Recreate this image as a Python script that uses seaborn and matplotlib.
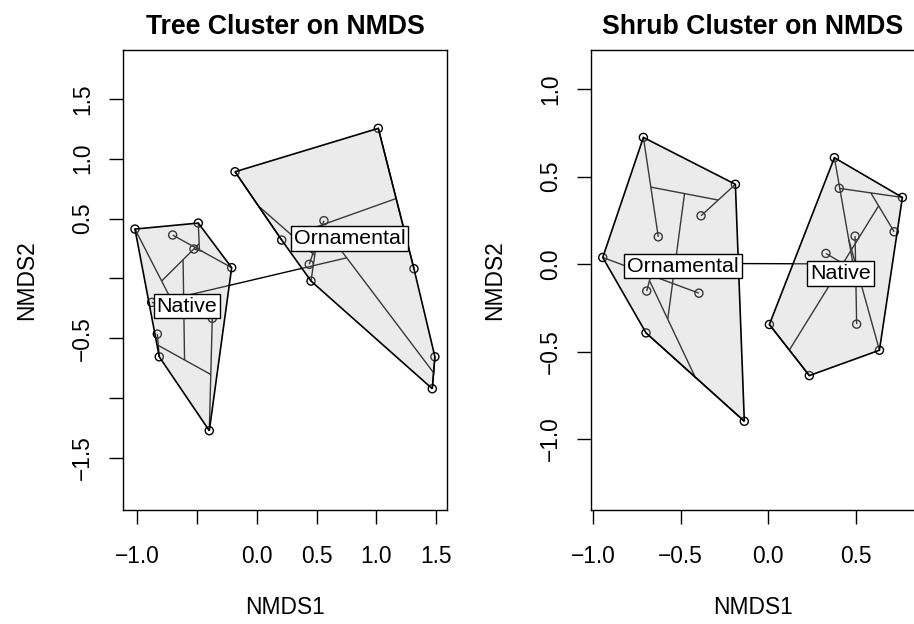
import numpy as np
import pandas as pd
import matplotlib
matplotlib.use("Agg")
import matplotlib.pyplot as plt
from matplotlib.collections import LineCollection
import seaborn as sns

# ---- NMDS site scores -------------------------------------------------------
# Trees
tree_native_x = [-1.017, -0.488, -0.702, -0.524, -0.209, -0.877, -0.488, -0.371, -0.830, -0.814, -0.396]
tree_native_y = [0.412, 0.462, 0.362, 0.245, 0.089, -0.201, -0.279, -0.334, -0.466, -0.656, -1.274]
tree_orn_x = [-0.181, 1.016, 0.562, 0.209, 0.439, 0.454, 1.314, 1.489, 1.467]
tree_orn_y = [0.891, 1.254, 0.482, 0.320, 0.117, -0.023, 0.080, -0.656, -0.923]

# Shrubs
shrub_orn_x = [-0.713, -0.188, -0.384, -0.628, -0.945, -0.694, -0.396, -0.698, -0.137]
shrub_orn_y = [0.724, 0.456, 0.276, 0.156, 0.038, -0.154, -0.166, -0.393, -0.898]
shrub_native_x = [0.377, 0.405, 0.765, 0.718, 0.495, 0.329, 0.006, 0.504, 0.634, 0.234]
shrub_native_y = [0.608, 0.433, 0.381, 0.185, 0.160, 0.061, -0.345, -0.343, -0.492, -0.637]

# ---- hierarchical clustering merge tables (hclust-style) ---------------------
# negative entry = site number, positive entry = earlier merge step
tree_native_merge = [(-3, -5), (-4, 1), (-2, 2), (-6, -7), (-1, 4), (3, 5),
                     (-9, -10), (-8, -11), (7, 8), (6, 9)]
tree_orn_merge = [(-1, -4), (-3, -5), (-6, 2), (1, 3), (-2, -7), (5, 4),
                  (-8, -9), (6, 7)]
shrub_orn_merge = [(-1, -4), (-2, -3), (1, 2), (-5, -7), (-6, 4), (-8, -9),
                   (5, 6), (3, 7)]
shrub_native_merge = [(-2, -3), (-4, 1), (-7, -10), (2, 3), (-6, 4), (-5, -8),
                      (-1, 6), (-9, 7), (5, 8)]


def convex_hull(pts):
    pts = sorted(map(tuple, pts))

    def cross(o, a, b):
        return (a[0] - o[0]) * (b[1] - o[1]) - (a[1] - o[1]) * (b[0] - o[0])

    lower, upper = [], []
    for p in pts:
        while len(lower) >= 2 and cross(lower[-2], lower[-1], p) <= 0:
            lower.pop()
        lower.append(p)
    for p in reversed(pts):
        while len(upper) >= 2 and cross(upper[-2], upper[-1], p) <= 0:
            upper.pop()
        upper.append(p)
    return np.array(lower[:-1] + upper[:-1])


def polygon_centre(poly):
    x, y = poly[:, 0], poly[:, 1]
    xn, yn = np.roll(x, -1), np.roll(y, -1)
    c = x * yn - xn * y
    area = c.sum() / 2
    return np.array([((x + xn) * c).sum() / (6 * area),
                     ((y + yn) * c).sum() / (6 * area)])


def cluster_segments(xy, merge):
    pos, size, segs = {}, {}, []
    for i, (a, b) in enumerate(merge, start=1):
        pa, na = (xy[-a - 1], 1) if a < 0 else (pos[a], size[a])
        pb, nb = (xy[-b - 1], 1) if b < 0 else (pos[b], size[b])
        segs.append([pa, pb])
        pos[i] = (na * pa + nb * pb) / (na + nb)
        size[i] = na + nb
    return segs, pos[len(merge)]


sns.set_theme(style="white")
plt.rcParams["font.family"] = ["Liberation Sans", "DejaVu Sans"]
plt.rcParams.update({
    "axes.edgecolor": "black", "axes.linewidth": 1.0,
    "xtick.color": "black", "ytick.color": "black",
    "text.color": "black", "axes.labelcolor": "black",
})

fig = plt.figure(figsize=(9.14, 6.24), dpi=100)
ax_l = fig.add_axes([123 / 914, 114 / 624, 324 / 914, 460 / 624])
ax_r = fig.add_axes([591 / 914, 114 / 624, 324 / 914, 460 / 624])

BASE = 16.4
fill_col = (0.745, 0.745, 0.745, 0.3)


def draw_panel(ax, groups, title, xlim, ylim, xticks, xlabels, yticks, ylabels):
    frames = []
    for name, x, y, _ in groups:
        frames.append(pd.DataFrame({"NMDS1": x, "NMDS2": y, "group": name}))
    df = pd.concat(frames, ignore_index=True)

    sns.scatterplot(data=df, x="NMDS1", y="NMDS2", ax=ax, marker="o", s=34,
                    facecolor="none", edgecolor="black", linewidth=1.0,
                    legend=False, zorder=2)

    roots = []
    for name, x, y, merge in groups:
        xy = np.column_stack([x, y])
        segs, root = cluster_segments(xy, merge)
        ax.add_collection(LineCollection(segs, colors="black", linewidths=1.0, zorder=2))
        roots.append(root)
    ax.add_collection(LineCollection([[roots[0], roots[1]]], colors="black",
                                     linewidths=1.0, zorder=2))

    for name, x, y, _ in groups:
        hull = convex_hull(np.column_stack([x, y]))
        ax.fill(hull[:, 0], hull[:, 1], facecolor=fill_col, edgecolor="black",
                linewidth=1.2, zorder=3)
        cx, cy = polygon_centre(hull)
        ax.text(cx, cy, name, ha="center", va="center", fontsize=15.4, zorder=5,
                bbox=dict(boxstyle="square,pad=0.13", fc="white", ec="black", lw=1.0))

    ax.set_xlim(*xlim)
    ax.set_ylim(*ylim)
    ax.set_xticks(xticks)
    ax.set_xticklabels(xlabels)
    ax.set_yticks(yticks)
    ax.set_yticklabels(ylabels, rotation=90, va="center")
    ax.tick_params(axis="x", direction="out", length=9.9, width=1.0,
                   labelsize=BASE, pad=15, bottom=True, top=False)
    ax.tick_params(axis="y", direction="out", length=9.9, width=1.0,
                   labelsize=BASE, pad=11, left=True, right=False)
    for sp in ax.spines.values():
        sp.set_visible(True)
        sp.set_color("black")
        sp.set_linewidth(1.0)

    ax.set_xlabel("NMDS1", fontsize=BASE)
    ax.set_ylabel("NMDS2", fontsize=BASE)
    ax.xaxis.set_label_coords(0.5, -97 / 460)
    ax.xaxis.label.set_va("center")
    ax.yaxis.set_label_coords(-96 / 324, 0.5)
    ax.yaxis.label.set_va("center")
    ax.set_title(title, fontsize=19.2, fontweight="bold", y=1 + 23 / 460,
                 va="center", pad=0)


draw_panel(
    ax_l,
    [("Native", tree_native_x, tree_native_y, tree_native_merge),
     ("Ornamental", tree_orn_x, tree_orn_y, tree_orn_merge)],
    "Tree Cluster on NMDS",
    (-1.117, 1.590), (-1.937, 1.909),
    [-1.0, -0.5, 0.0, 0.5, 1.0, 1.5], ["\u22121.0", "", "0.0", "0.5", "1.0", "1.5"],
    [-1.5, -1.0, -0.5, 0.0, 0.5, 1.0, 1.5],
    ["\u22121.5", "", "\u22120.5", "", "0.5", "1.0", "1.5"],
)

draw_panel(
    ax_r,
    [("Ornamental", shrub_orn_x, shrub_orn_y, shrub_orn_merge),
     ("Native", shrub_native_x, shrub_native_y, shrub_native_merge)],
    "Shrub Cluster on NMDS",
    (-1.012, 0.837), (-1.405, 1.2235),
    [-1.0, -0.5, 0.0, 0.5], ["\u22121.0", "\u22120.5", "0.0", "0.5"],
    [-1.0, -0.5, 0.0, 0.5, 1.0], ["\u22121.0", "\u22120.5", "0.0", "0.5", "1.0"],
)

fig.savefig("out.png", dpi=100, facecolor="white")
